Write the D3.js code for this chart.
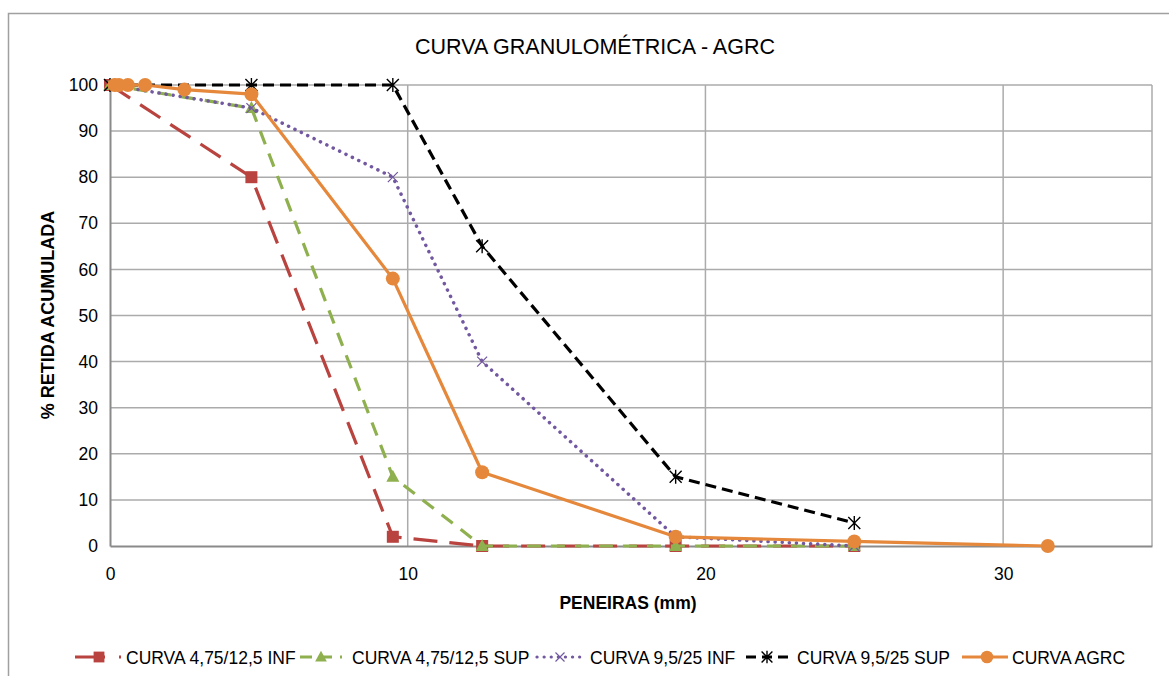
<!DOCTYPE html>
<html><head><meta charset="utf-8">
<script src="https://cdn.jsdelivr.net/npm/d3@7"></script>
<style>body{margin:0;background:#fff;}svg{display:block;font-family:"Liberation Sans",Arial,sans-serif;}</style>
</head><body>
<svg id="c" width="1169" height="676"></svg>
<script>
const title = "CURVA GRANULOMÉTRICA - AGRC";
const xTitle = "PENEIRAS (mm)";
const yTitle = "% RETIDA ACUMULADA";
const xTicks = [0, 10, 20, 30];
const yTicks = [0, 10, 20, 30, 40, 50, 60, 70, 80, 90, 100];

const limSieves = [0, 4.75, 9.5, 12.5, 19, 25];
const inf475 = [100, 80, 2, 0, 0, 0];
const sup475 = [100, 95, 15, 0, 0, 0];
const inf95 = [100, 95, 80, 40, 2, 0];
const sup95 = [100, 100, 100, 65, 15, 5];
const agrcSieves = [0.15, 0.3, 0.6, 1.18, 2.5, 4.75, 9.5, 12.5, 19, 25, 31.5];
const agrc = [100, 100, 100, 100, 99, 98, 58, 16, 2, 1, 0];

const seriesNames = ["CURVA 4,75/12,5 INF", "CURVA 4,75/12,5 SUP", "CURVA 9,5/25 INF", "CURVA 9,5/25 SUP", "CURVA AGRC"];

const series = [
  {name: seriesNames[0], xs: limSieves, ys: inf475, color: "#B8433F", dash: "24,12", cap: "butt", marker: "square"},
  {name: seriesNames[1], xs: limSieves, ys: sup475, color: "#8FB04E", dash: "14,10", cap: "butt", marker: "triangle"},
  {name: seriesNames[2], xs: limSieves, ys: inf95, color: "#7258A0", dash: "0.1,7", cap: "round", marker: "x"},
  {name: seriesNames[3], xs: limSieves, ys: sup95, color: "#000000", dash: "11,6", cap: "butt", marker: "star"},
  {name: seriesNames[4], xs: agrcSieves, ys: agrc, color: "#E5883B", dash: null, cap: "butt", marker: "circle"}
];

const svg = d3.select("#c");
const L = 110, R = 1152, T = 85, B = 546;
const x = d3.scaleLinear().domain([0, 35]).range([L, R]);
const y = d3.scaleLinear().domain([0, 100]).range([B, T]);
const FONT = "Liberation Sans, Arial, sans-serif";

// outer frame
svg.append("rect").attr("x", 8.5).attr("y", 13.5).attr("width", 1200).attr("height", 700)
  .attr("fill", "none").attr("stroke", "#A0A0A0").attr("stroke-width", 1.5);

// gridlines
svg.append("g").selectAll("line").data(yTicks.filter(d => d > 0)).join("line")
  .attr("x1", L).attr("x2", R).attr("y1", d => y(d)).attr("y2", d => y(d))
  .attr("stroke", "#ABABAB").attr("stroke-width", 1.5);
svg.append("g").selectAll("line").data(xTicks.filter(d => d > 0)).join("line")
  .attr("x1", d => x(d)).attr("x2", d => x(d)).attr("y1", T).attr("y2", B)
  .attr("stroke", "#ABABAB").attr("stroke-width", 1.5);
svg.append("line").attr("x1", R).attr("x2", R).attr("y1", T).attr("y2", B)
  .attr("stroke", "#ABABAB").attr("stroke-width", 1.5);

// axes
const xAxis = d3.axisBottom(x).tickValues(xTicks).tickSize(0).tickPadding(22);
const gx = svg.append("g").attr("transform", `translate(0,${B})`).call(xAxis);
gx.select(".domain").attr("stroke", "#8A8A8A").attr("stroke-width", 2);
gx.selectAll("text").attr("font-size", 17.5).attr("fill", "#000").attr("font-family", FONT);

const yAxis = d3.axisLeft(y).tickValues(yTicks).tickSize(0).tickPadding(12);
const gy = svg.append("g").attr("transform", `translate(${L},0)`).call(yAxis);
gy.select(".domain").attr("stroke", "#8A8A8A").attr("stroke-width", 2);
gy.selectAll("text").attr("font-size", 17.5).attr("fill", "#000").attr("font-family", FONT);

// titles
svg.append("text").attr("x", 595).attr("y", 54).attr("text-anchor", "middle")
  .attr("font-size", 21.5).attr("fill", "#000").text(title);
svg.append("text").attr("x", 628).attr("y", 609).attr("text-anchor", "middle")
  .attr("font-size", 17.5).attr("font-weight", "bold").attr("fill", "#000").text(xTitle);
svg.append("text").attr("transform", "translate(54,315) rotate(-90)").attr("text-anchor", "middle")
  .attr("font-size", 18).attr("font-weight", "bold").attr("fill", "#000").text(yTitle);

function drawMarker(g, type, color, cx, cy, scale) {
  const s = scale || 1;
  if (type === "square") {
    g.append("rect").attr("x", cx - 6*s).attr("y", cy - 6*s).attr("width", 12*s).attr("height", 12*s).attr("fill", color);
  } else if (type === "triangle") {
    g.append("path").attr("d", `M${cx},${cy-7*s}L${cx+6.5*s},${cy+5*s}L${cx-6.5*s},${cy+5*s}Z`).attr("fill", color);
  } else if (type === "x") {
    g.append("path").attr("d", `M${cx-5*s},${cy-5*s}L${cx+5*s},${cy+5*s}M${cx+5*s},${cy-5*s}L${cx-5*s},${cy+5*s}`)
      .attr("stroke", color).attr("stroke-width", 1.2).attr("fill", "none");
  } else if (type === "star") {
    g.append("path").attr("d", `M${cx-6*s},${cy-6*s}L${cx+6*s},${cy+6*s}M${cx+6*s},${cy-6*s}L${cx-6*s},${cy+6*s}M${cx},${cy-7*s}L${cx},${cy+7*s}`)
      .attr("stroke", color).attr("stroke-width", 1.4).attr("fill", "none");
  } else if (type === "circle") {
    g.append("circle").attr("cx", cx).attr("cy", cy).attr("r", 7*s).attr("fill", color);
  }
}

const line = d3.line().x(d => x(d[0])).y(d => y(d[1]));
series.forEach(s => {
  const pts = s.xs.map((v, i) => [v, s.ys[i]]);
  const g = svg.append("g");
  const p = g.append("path").attr("d", line(pts)).attr("fill", "none")
    .attr("stroke", s.color).attr("stroke-width", 3.2).attr("stroke-linecap", s.cap).attr("stroke-linejoin", "round");
  if (s.dash) p.attr("stroke-dasharray", s.dash);
  if (s.marker === "x") p.attr("stroke-width", 3.5);
  pts.forEach(d => drawMarker(g, s.marker, s.color, x(d[0]), y(d[1])));
});

// legend
const legendY = 657;
const legendItems = [
  {lx1: 75, lx2: 122, mx: 99, tx: 126, dash: "30,14,2,100"},
  {lx1: 300, lx2: 342, mx: 321, tx: 352, dash: "12,8"},
  {lx1: 537, lx2: 582, mx: 560, tx: 590, dash: "0.1,7"},
  {lx1: 746, lx2: 788, mx: 767, tx: 797, dash: "10,6"},
  {lx1: 962, lx2: 1008, mx: 987, tx: 1012, dash: null}
];
series.forEach((s, i) => {
  const it = legendItems[i];
  const g = svg.append("g");
  const p = g.append("line").attr("x1", it.lx1).attr("x2", it.lx2).attr("y1", legendY).attr("y2", legendY)
    .attr("stroke", s.color).attr("stroke-width", 3.2).attr("stroke-linecap", s.cap);
  if (it.dash) p.attr("stroke-dasharray", it.dash);
  drawMarker(g, s.marker, s.color, it.mx, legendY, 0.9);
  g.append("text").attr("x", it.tx).attr("y", legendY + 6.5).attr("font-size", 17.5).attr("fill", "#000").text(s.name);
});
</script>
</body></html>
